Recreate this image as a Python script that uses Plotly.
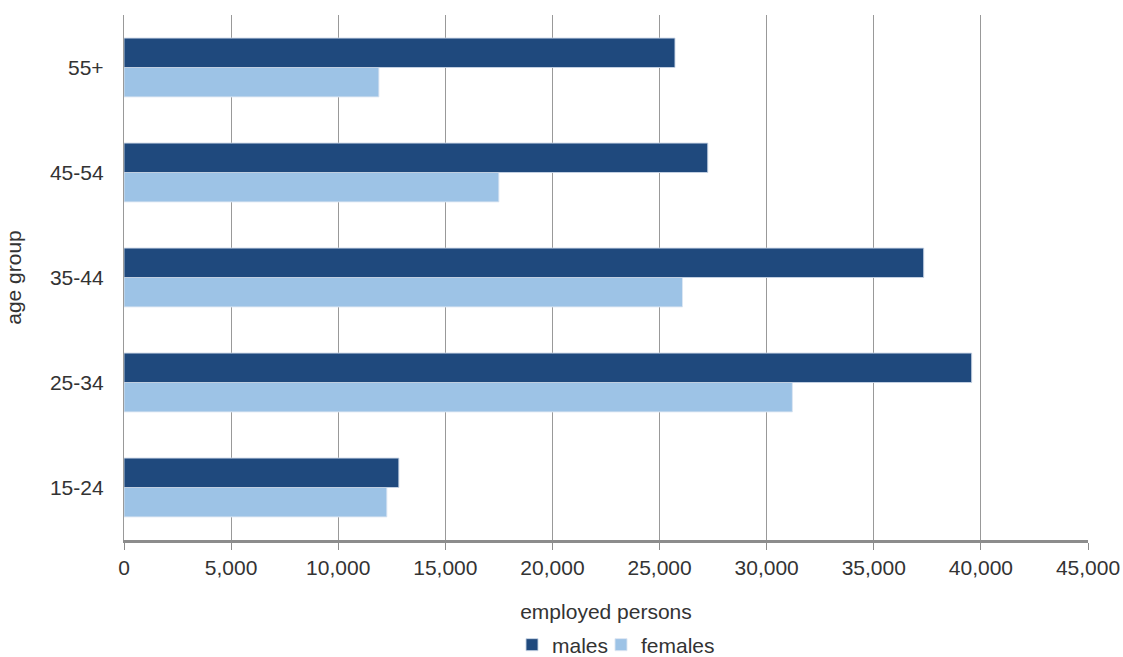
import plotly.graph_objects as go

age_groups = ["15-24", "25-34", "35-44", "45-54", "55+"]
males = [12830, 39570, 37330, 27250, 25720]
females = [12270, 31200, 26070, 17500, 11900]
x_ticks = [0, 5000, 10000, 15000, 20000, 25000, 30000, 35000, 40000, 45000]

DARK = "#1F497D"
LIGHT = "#9DC3E6"
FONT = "Liberation Sans, Arial, sans-serif"
TXT = "#333333"
FS = 21

fig = go.Figure()
fig.add_trace(go.Bar(
    y=age_groups, x=females, name="females", orientation="h",
    marker=dict(color=LIGHT, line=dict(color="rgba(220,230,242,0.9)", width=1)),
    legend="legend2",
))
fig.add_trace(go.Bar(
    y=age_groups, x=males, name="males", orientation="h",
    marker=dict(color=DARK, line=dict(color="rgba(200,212,228,0.9)", width=1)),
    legend="legend",
))

leg_common = dict(
    orientation="h", xref="container", yref="container",
    xanchor="left", yanchor="middle", y=1 - 645 / 657,
    font=dict(size=FS, color=TXT), itemwidth=30, bgcolor="rgba(0,0,0,0)",
)

fig.update_layout(
    width=1123, height=657,
    margin=dict(l=124, r=35, t=15, b=117),
    paper_bgcolor="white", plot_bgcolor="white",
    barmode="group", bargap=0.44, bargroupgap=0,
    font=dict(family=FONT, size=FS, color=TXT),
    showlegend=True,
    legend=dict(x=(552 - 40) / 1123, **leg_common),
    legend2=dict(x=(641 - 40) / 1123, **leg_common),
    xaxis=dict(
        range=[0, 45000], tickvals=x_ticks, tickformat=",d",
        showgrid=True, gridcolor="#999999", gridwidth=1.3,
        showline=True, linecolor="#8c8c8c", linewidth=2.5,
        ticks="outside", ticklen=7, tickcolor="#8c8c8c", tickwidth=1.3,
        zeroline=False, automargin=False,
        title=dict(text="employed persons", standoff=27, font=dict(size=FS, color=TXT)),
        tickfont=dict(size=FS, color=TXT),
        fixedrange=True,
    ),
    yaxis=dict(
        showgrid=False, showline=True, linecolor="#999999", linewidth=1.3,
        ticks="", ticklabelstandoff=15, automargin=False,
        title=dict(text="age group", standoff=22, font=dict(size=FS, color=TXT)),
        tickfont=dict(size=FS, color=TXT),
        fixedrange=True,
    ),
)

fig.write_html(
    "out.html",
    config={"displayModeBar": False},
    post_script="document.body.style.margin='0px';",
)
